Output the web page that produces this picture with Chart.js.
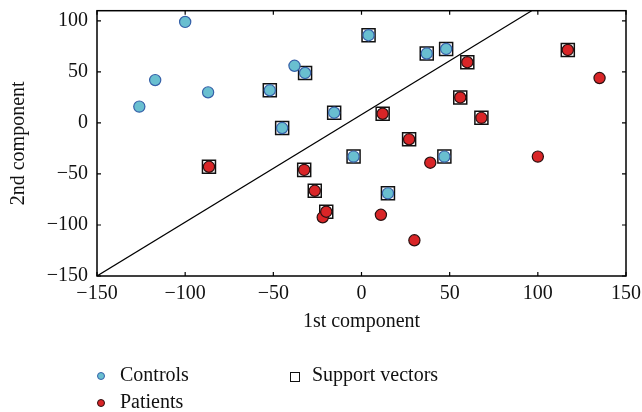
<!DOCTYPE html>
<html>
<head>
<meta charset="utf-8">
<script src="https://cdn.jsdelivr.net/npm/chart.js@4.4.0/dist/chart.umd.min.js"></script>
<style>
  body { margin: 0; background: #fff; }
  #wrap { position: relative; width: 642px; height: 412px; font-family: "Liberation Serif", "DejaVu Serif", serif; }
  .lg-text { position: absolute; font-size: 20px; line-height: 24px; color: #111; white-space: nowrap; }
  .lg-mark { position: absolute; box-sizing: border-box; }
</style>
</head>
<body>
<div id="wrap">
  <canvas id="svmChart" width="642" height="412"></canvas>

  <span class="lg-mark" style="left:97px; top:372px; width:8px; height:8px; border-radius:50%; background:#69bfd0; border:1px solid #3560a8;"></span>
  <span class="lg-text" style="left:120px; top:362px;">Controls</span>
  <span class="lg-mark" style="left:97px; top:399px; width:8px; height:8px; border-radius:50%; background:#d92527; border:1px solid #2a1010;"></span>
  <span class="lg-text" style="left:120px; top:389px;">Patients</span>
  <span class="lg-mark" style="left:290px; top:372px; width:10px; height:10px; background:#fff; border:1.3px solid #111;"></span>
  <span class="lg-text" style="left:312px; top:362px;">Support vectors</span>
</div>

<script>
/* Data */
const controls = [
  [-100, 99], [-117, 42], [-126, 16], [-87, 30], [-38, 56],
  [-52, 32], [-32, 49], [-15.5, 10], [-45, -5], [4, 86],
  [37, 68], [48, 72.5], [-4.5, -33], [47, -33], [15, -69]
];
const patients = [
  [135, 44], [39, -39], [100, -33], [11, -90], [30, -115],
  [60, 59.5], [117, 71.5], [56, 25], [68, 5], [12, 9],
  [27, -16], [-86.5, -43], [-32.5, -46], [-26.5, -66.5],
  [-22, -92.5], [-20, -87]
];
const supportVectors = [
  [-52, 32], [-32, 49], [-15.5, 10], [-45, -5], [4, 86],
  [37, 68], [48, 72.5], [-4.5, -33], [47, -33], [15, -69],
  [60, 59.5], [117, 71.5], [56, 25], [68, 5], [12, 9],
  [27, -16], [-86.5, -43], [-32.5, -46], [-26.5, -66.5], [-20, -87]
];
// separating line, two ends
const boundary = [[-150, -150], [96.5, 110]];

const xTicks = [-150, -100, -50, 0, 50, 100, 150];
const yTicks = [-150, -100, -50, 0, 50, 100];

const labelFont = { family: "'Liberation Serif', 'DejaVu Serif', serif", size: 20 };

function toXY(arr) {
  return arr.map(p => ({ x: p[0], y: p[1] }));
}

function fmt(v) {
  return v < 0 ? '\u2212' + Math.abs(v) : String(v);
}

// box around the plot with small inward ticks on every side
const framePlugin = {
  id: 'frame',
  afterDatasetsDraw(chart) {
    const ctx = chart.ctx;
    const a = chart.chartArea;
    const xs = chart.scales.x, ys = chart.scales.y;
    const tl = 4;
    ctx.save();
    ctx.strokeStyle = '#000';
    ctx.lineWidth = 1.5;
    ctx.strokeRect(a.left, a.top, a.right - a.left, a.bottom - a.top);
    ctx.lineWidth = 1.2;
    ctx.beginPath();
    xTicks.forEach(v => {
      const px = xs.getPixelForValue(v);
      ctx.moveTo(px, a.bottom); ctx.lineTo(px, a.bottom - tl);
      ctx.moveTo(px, a.top); ctx.lineTo(px, a.top + tl);
    });
    yTicks.forEach(v => {
      const py = ys.getPixelForValue(v);
      ctx.moveTo(a.left, py); ctx.lineTo(a.left + tl, py);
      ctx.moveTo(a.right, py); ctx.lineTo(a.right - tl, py);
    });
    ctx.stroke();
    ctx.restore();
  }
};

const ctxSvm = document.getElementById('svmChart').getContext('2d');

const svmChart = new Chart(ctxSvm, {
  type: 'scatter',
  data: {
    datasets: [{
      label: 'Controls',
      data: toXY(controls),
      backgroundColor: '#69bfd0',
      borderColor: '#3560a8',
      borderWidth: 1.2,
      pointRadius: 5.6,
      order: 1
    },
    {
      label: 'Patients',
      data: toXY(patients),
      backgroundColor: '#d92527',
      borderColor: '#2a1010',
      borderWidth: 1.2,
      pointRadius: 5.6,
      order: 1
    },
    {
      label: 'Support vectors',
      data: toXY(supportVectors),
      pointStyle: 'rect',
      backgroundColor: '#ffffff',
      borderColor: '#111111',
      borderWidth: 1.5,
      pointRadius: 9.2,
      order: 2
    },
    {
      label: 'boundary',
      data: toXY(boundary),
      showLine: true,
      borderColor: '#000',
      borderWidth: 1.2,
      pointRadius: 0,
      order: 3
    }]
  },
  options: {
    responsive: false,
    animation: false,
    layout: { padding: { left: 0, top: 10, right: 16, bottom: 78 } },
    plugins: {
      legend: { display: false },
      tooltip: { enabled: false }
    },
    scales: {
      x: {
        type: 'linear',
        min: -150,
        max: 150,
        grid: { display: false, drawTicks: false },
        border: { display: false },
        afterBuildTicks: scale => { scale.ticks = xTicks.map(v => ({ value: v })); },
        afterFit: scale => {
          scale.height = 58;
          scale.paddingLeft = 0;
          scale.paddingRight = 0;
        },
        ticks: {
          padding: 6,
          color: '#111',
          font: labelFont,
          maxRotation: 0,
          callback: v => fmt(v)
        },
        title: {
          display: true,
          text: '1st component',
          color: '#111',
          font: labelFont,
          padding: 0
        }
      },
      y: {
        type: 'linear',
        min: -150,
        max: 110,
        grid: { display: false, drawTicks: false },
        border: { display: false },
        afterBuildTicks: scale => { scale.ticks = yTicks.map(v => ({ value: v })); },
        afterFit: scale => {
          scale.width = 97;
          scale.paddingTop = 0;
          scale.paddingBottom = 0;
        },
        ticks: {
          padding: 9,
          color: '#111',
          font: labelFont,
          callback: v => fmt(v)
        },
        title: {
          display: true,
          text: '2nd component',
          color: '#111',
          font: labelFont,
          padding: { top: 7, bottom: 0 }
        }
      }
    }
  },
  plugins: [framePlugin]
});
</script>
</body>
</html>
